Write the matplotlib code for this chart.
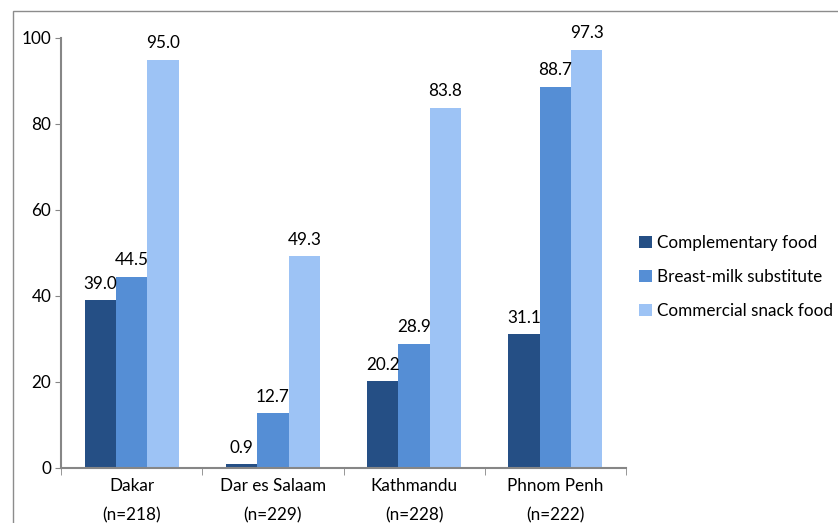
import numpy as np
import matplotlib.pyplot as plt
from matplotlib.patches import Rectangle

cities = ['Dakar\n(n=218)', 'Dar es Salaam\n(n=229)', 'Kathmandu\n(n=228)', 'Phnom Penh\n(n=222)']
series_names = ['Complementary food', 'Breast-milk substitute', 'Commercial snack food']
complementary = [39.0, 0.9, 20.2, 31.1]
breast_milk = [44.5, 12.7, 28.9, 88.7]
snack = [95.0, 49.3, 83.8, 97.3]
colors = ['#254F85', '#558ED5', '#9DC3F5']

plt.rcParams['font.family'] = ['Lato', 'DejaVu Sans']
fs = 12.3

fig = plt.figure(figsize=(8.38, 5.23), dpi=100)
ax = fig.add_axes([61 / 838, 55 / 523, 565 / 838, 430 / 523])

# outer chart-area frame
fig.patches.append(Rectangle((13 / 838, -0.1), 1.0, (512 / 523) + 0.1, transform=fig.transFigure,
                             fill=False, edgecolor='#8c8c8c', linewidth=1.0))

x = np.arange(len(cities))
width = 1 / 4.5
for i, (vals, name) in enumerate(zip([complementary, breast_milk, snack], series_names)):
    pos = x + (i - 1) * width
    bars = ax.bar(pos, vals, width, color=colors[i], label=name, zorder=2)
    for b, v in zip(bars, vals):
        ax.annotate('{:.1f}'.format(v), (b.get_x() + b.get_width() / 2, v), xytext=(0, 6),
                    textcoords='offset points', ha='center', va='bottom', fontsize=fs, color='#000000')

ax.set_xlim(-0.5, len(cities) - 0.5)
ax.set_ylim(0, 100)
ax.set_yticks([0, 20, 40, 60, 80, 100])
ax.set_xticks(x)
ax.set_xticklabels(cities, fontsize=fs, linespacing=2.0)
ax.set_xticks(np.arange(-0.5, len(cities)), minor=True)
ax.tick_params(axis='x', which='major', length=0, pad=7)
ax.tick_params(axis='x', which='minor', length=5, color='#868686', direction='out')
ax.tick_params(axis='y', length=4, color='#868686', labelsize=fs, pad=3)
for s in ['top', 'right']:
    ax.spines[s].set_visible(False)
for s in ['left', 'bottom']:
    ax.spines[s].set_color('#868686')
    ax.spines[s].set_linewidth(1.5)

ax.legend(loc='center left', bbox_to_anchor=(1.0, 0.444), frameon=False, fontsize=fs,
          handlelength=0.75, handleheight=0.75, handletextpad=0.3, labelspacing=1.05,
          borderpad=0, borderaxespad=0.75)

fig.savefig('out.png', dpi=100)
